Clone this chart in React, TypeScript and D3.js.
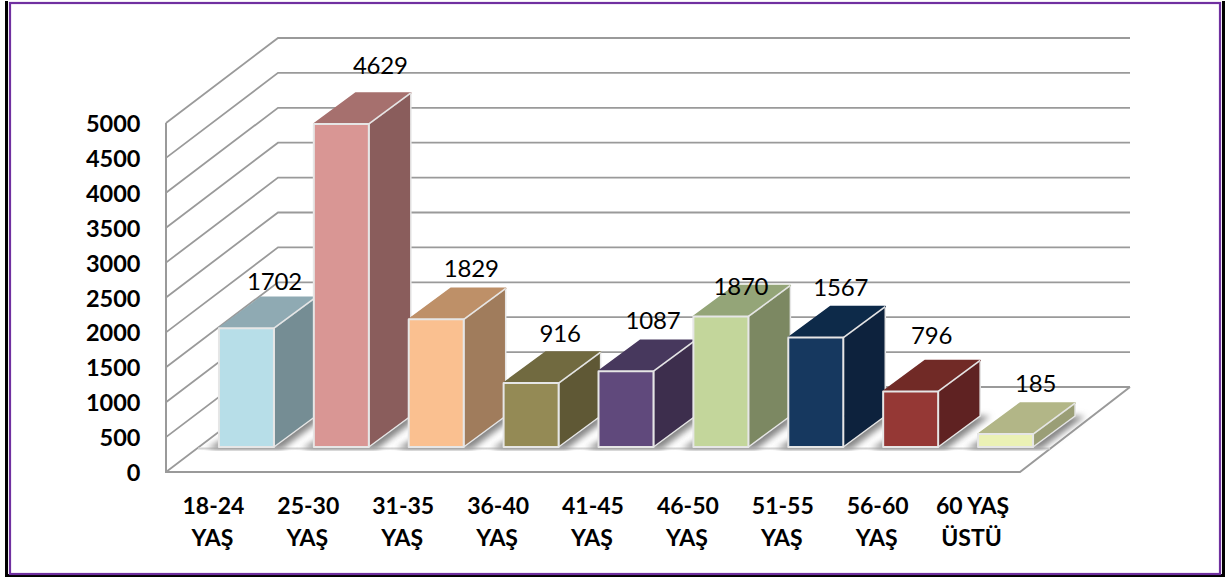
import React from "react";
import * as d3 from "d3";

const categoryTop = ["18-24", "25-30", "31-35", "36-40", "41-45", "46-50", "51-55", "56-60", "60 YAŞ"];
const categoryBottom = ["YAŞ", "YAŞ", "YAŞ", "YAŞ", "YAŞ", "YAŞ", "YAŞ", "YAŞ", "ÜSTÜ"];
const values = [1702, 4629, 1829, 916, 1087, 1870, 1567, 796, 185];
const yTicks = [0, 500, 1000, 1500, 2000, 2500, 3000, 3500, 4000, 4500, 5000];
const frontColors = ["#B7DEE8", "#D99694", "#FAC090", "#948A54", "#604A7B", "#C3D69B", "#17375E", "#953735", "#EBF1B5"];
const topColors = ["#8FAAB3", "#A6706E", "#BE9068", "#716A40", "#47375D", "#94A578", "#112A49", "#712A28", "#B2B687"];
const sideColors = ["#748D94", "#8A5D5C", "#A07C5C", "#5E5835", "#3D2F4E", "#7C8862", "#0F233C", "#5F2322", "#9A9E76"];
const labelNudgeX = [28, 39, 35, 29, 27, 20, 25, 21, 30];
const labelNudgeY = [-48, -59, -52, -51, -52, -31, -51, -57, -52];

const W = 1227;
const H = 578;
const FONT = "Lato, 'Open Sans', sans-serif";
const x = d3.scaleBand<number>().domain(d3.range(values.length)).range([166, 1020]);
const y = d3.scaleLinear().domain([0, 5000]).range([472, 123]);
const wallDx = 112;
const wallDy = -85;
const barShift = 33;
const barLift = -25;
const barW = 55;
const depthX = 42;
const depthY = -31;
const line = d3.line<[number, number]>();

export default function App() {
  const backRight = 1130;
  const grid = yTicks.map((t) =>
    line([
      [x.range()[0], y(t)],
      [x.range()[0] + wallDx, y(t) + wallDy],
      [backRight, y(t) + wallDy],
    ])
  );
  return (
    <svg
      width={W}
      height={H}
      viewBox={`0 0 ${W} ${H}`}
      style={{ position: "absolute", left: 0, top: 0, background: "#fff" }}
    >
      <defs>
        <filter id="soft" x="-10%" y="-10%" width="120%" height="120%">
          <feGaussianBlur stdDeviation="0.45" />
        </filter>
        <filter id="barSoft" x="-5%" y="-5%" width="110%" height="110%">
          <feGaussianBlur stdDeviation="0.35" />
        </filter>
        <filter id="shadow" x="-30%" y="-30%" width="160%" height="160%">
          <feGaussianBlur stdDeviation="3.2" />
        </filter>
        <clipPath id="floorClip">
          <rect x={160} y={300} width={1000} height={151} />
        </clipPath>
      </defs>

      <path d="M6.5 1 V575.5 H1223.5 V1" fill="none" stroke="#000" strokeWidth={3} />
      <rect x={10} y={3} width={1210} height={571} fill="#fff" stroke="#7030A0" strokeWidth={2.2} />

      <g fill="none" stroke="#9A9A9A" strokeWidth={1.8} filter="url(#soft)">
        {grid.map((d, i) => (
          <path key={i} d={d ?? ""} />
        ))}
        <path
          d={
            line([
              [166, y(5000)],
              [166, y(0)],
              [1020, y(0)],
              [1130, y(0) + wallDy],
            ]) ?? ""
          }
          strokeWidth={2}
        />
      </g>

      <g clipPath="url(#floorClip)">
        <line x1={198} x2={1050} y1={448.5} y2={448.5} stroke="#D4D4D4" strokeWidth={2} />
        {values.map((v, i) => {
          const x0 = (x(i) as number) + x.bandwidth() / 2 - barW / 2 + barShift;
          const b = y(0) + barLift;
          return (
            <path
              key={i}
              d={
                line([
                  [x0 - 12, b + 2],
                  [x0 + barW + 8, b + 2],
                  [x0 + barW + depthX + 10, b + depthY],
                  [x0 + depthX, b + depthY],
                ]) + "Z"
              }
              fill="#858585"
              filter="url(#shadow)"
            />
          );
        })}
      </g>

      <g filter="url(#barSoft)">
        {values.map((v, i) => {
          const x0 = (x(i) as number) + x.bandwidth() / 2 - barW / 2 + barShift;
          const x1 = x0 + barW;
          const b = y(0) + barLift;
          const t = b - (y(0) - y(v));
          return (
            <g key={i} stroke="#E6E6E6" strokeWidth={1.5} strokeLinejoin="round">
              <path
                d={
                  line([
                    [x1, t],
                    [x1 + depthX, t + depthY],
                    [x1 + depthX, b + depthY],
                    [x1, b],
                  ]) + "Z"
                }
                fill={sideColors[i]}
              />
              <path
                d={
                  line([
                    [x0, t],
                    [x0 + depthX, t + depthY],
                    [x1 + depthX, t + depthY],
                    [x1, t],
                  ]) + "Z"
                }
                fill={topColors[i]}
                stroke={topColors[i]}
              />
              <line x1={x1} y1={t} x2={x1 + depthX} y2={t + depthY} />
              <rect x={x0} y={t} width={barW} height={b - t} fill={frontColors[i]} strokeWidth={2} />
            </g>
          );
        })}
      </g>

      <g fontFamily={FONT} fontSize={24} fill="#000" letterSpacing={-0.2}>
        {values.map((v, i) => {
          const x0 = (x(i) as number) + x.bandwidth() / 2 + barShift;
          const t = y(0) + barLift - (y(0) - y(v));
          return (
            <text key={i} x={x0 + labelNudgeX[i]} y={t + labelNudgeY[i]} textAnchor="middle" dominantBaseline="central">
              {v}
            </text>
          );
        })}
      </g>

      <g fontFamily={FONT} fontSize={23.5} fontWeight={700} fill="#000">
        {yTicks.map((t) => (
          <text key={t} x={140.5} y={y(t)} textAnchor="end" dominantBaseline="central">
            {t}
          </text>
        ))}
      </g>

      <g fontFamily={FONT} fontSize={23} fontWeight={700} fill="#000" textAnchor="middle">
        {categoryTop.map((c, i) => {
          const cx = (x(i) as number) + x.bandwidth() / 2;
          return (
            <g key={i}>
              <text x={cx} y={505} dominantBaseline="central">
                {c}
              </text>
              <text x={cx - 1} y={537} dominantBaseline="central">
                {categoryBottom[i]}
              </text>
            </g>
          );
        })}
      </g>
    </svg>
  );
}
